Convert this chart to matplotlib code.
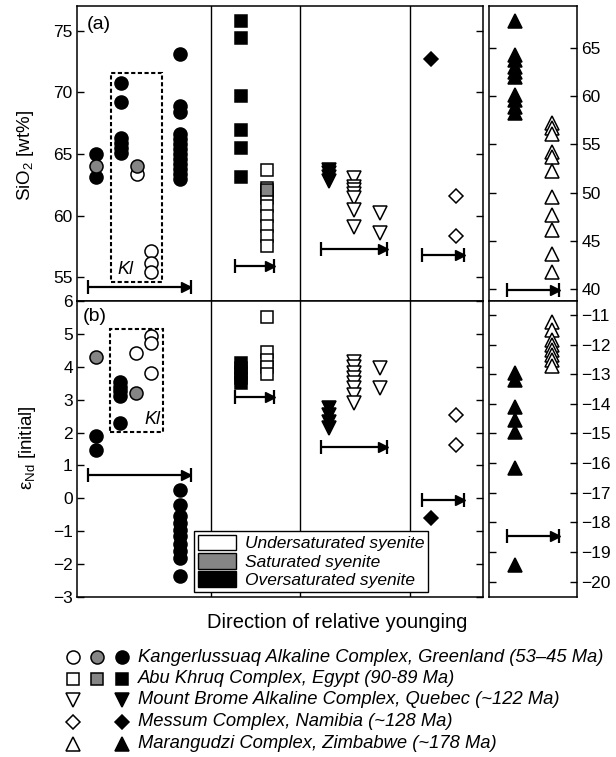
import matplotlib.pyplot as plt
from matplotlib.patches import Patch, Rectangle

plt.rcParams['font.family'] = ['Liberation Sans', 'DejaVu Sans']
plt.rcParams['mathtext.fontset'] = 'custom'
plt.rcParams['mathtext.rm'] = 'Liberation Sans'
plt.rcParams['mathtext.it'] = 'Liberation Sans:italic'

# ---------------- data (a) SiO2 [wt%] ----------------
# Kangerlussuaq (left scale)
k_si_black_1 = [65.0, 63.1]
k_si_gray_1 = [64.05]
k_si_black_2 = [70.75, 69.25, 66.3, 65.9, 65.5, 65.1]
k_si_gray_3 = [64.05]
k_si_open_3 = [63.4]
k_si_open_4 = [57.1, 56.1, 55.4]
k_si_black_5 = [73.1, 68.9, 68.4, 66.6, 66.2, 65.8, 65.4, 65.0, 64.6, 64.2, 63.8, 63.4, 63.0]
# Abu Khruq (left scale)
abu_si_black = [75.8, 74.4, 69.7, 66.95, 65.45, 63.15]
abu_si_gray = [62.1]
abu_si_open = [63.7, 62.25, 61.95, 61.45, 60.8, 59.95, 59.15, 58.35, 57.5]
# Mount Brome, Messum, Marangudzi (right scale)
mb_si_black = [52.3, 52.0, 51.6, 51.2]
mb_si_open_1 = [51.5, 50.6, 50.3, 49.9, 49.4, 48.2, 46.5]
mb_si_open_2 = [47.9, 45.85]
me_si_black = [63.8]
me_si_open = [49.65, 45.5]
ma_si_black = [67.7, 64.2, 63.7, 63.0, 62.5, 62.0, 60.1, 59.6, 58.9, 58.2]
ma_si_open = [57.2, 56.7, 56.1, 54.2, 53.7, 52.2, 49.6, 47.7, 46.1, 43.7, 41.8]

# ---------------- data (b) eNd [initial] ----------------
k_nd_gray_1 = [4.3]
k_nd_black_1 = [1.89, 1.46]
k_nd_black_2 = [3.55, 3.4, 3.25, 3.1, 2.3]
k_nd_gray_3 = [3.21]
k_nd_open_3 = [4.41]
k_nd_open_4 = [4.93, 4.73, 3.82]
k_nd_black_5 = [0.25, -0.2, -0.55, -0.75, -0.95, -1.15, -1.4, -1.6, -1.8, -2.37]
abu_nd_black = [4.1, 3.95, 3.8, 3.65, 3.5]
abu_nd_open = [5.52, 4.46, 4.2, 3.98, 3.78]
mb_nd_black = [-14.15, -14.38, -14.6, -14.83]
mb_nd_open_1 = [-12.58, -12.77, -12.97, -13.14, -13.31, -13.48, -13.7, -13.98]
mb_nd_open_2 = [-12.8, -13.48]
me_nd_black = [-17.84]
me_nd_open = [-14.38, -15.39]
ma_nd_black = [-12.97, -13.2, -14.1, -14.55, -14.94, -16.18, -19.45]
ma_nd_open = [-11.23, -11.5, -11.84, -12.0, -12.2, -12.35, -12.52, -12.72]

# younging arrows (y values)
arrow_a = [54.15, 55.9, 44.2, 43.6, 39.9]
arrow_b = [0.70, 3.07, -15.45, -17.23, -18.47]

complexes = ['Kangerlussuaq Alkaline Complex, Greenland (53–45 Ma)',
             'Abu Khruq Complex, Egypt (90-89 Ma)',
             'Mount Brome Alkaline Complex, Quebec (~122 Ma)',
             'Messum Complex, Namibia (~128 Ma)',
             'Marangudzi Complex, Zimbabwe (~178 Ma)']
saturation = ['Undersaturated syenite', 'Saturated syenite', 'Oversaturated syenite']

# ---------------- layout ----------------
W, H = 616, 757
GRAY = '#858585'
X_K = [96, 121, 137, 151, 180]
X_ABU = [241, 267]
X_MB = [328.5, 353.5, 380]
X_ME = [431, 456]
X_MA = [514.5, 552]
ARROW_X = [(88, 190.7), (235, 274.3), (320.7, 387.3), (422, 464), (506.7, 559)]

fig = plt.figure(figsize=(W / 100, H / 100), dpi=100)


def frac(x0, y0, x1, y1):
    return [x0 / W, 1 - y1 / H, (x1 - x0) / W, (y1 - y0) / H]


ax_a = fig.add_axes(frac(77, 6, 483, 301))
ax_b = fig.add_axes(frac(77, 301, 483, 597))
axr_a = fig.add_axes(frac(489, 6, 577, 301))
axr_b = fig.add_axes(frac(489, 301, 577, 597))
ax_a.set_ylim(53.05, 77.03)
ax_b.set_ylim(-3, 6)
axr_a.set_ylim(38.8, 69.3)
axr_b.set_ylim(-20.52, -10.53)
tw_a = ax_a.twinx()
tw_b = ax_b.twinx()
tw_a.set_ylim(axr_a.get_ylim())
tw_b.set_ylim(axr_b.get_ylim())

for ax in (ax_a, ax_b, tw_a, tw_b):
    ax.set_xlim(77, 483)
for ax in (axr_a, axr_b):
    ax.set_xlim(489, 577)

for ax in (ax_a, ax_b, axr_a, axr_b):
    ax.set_xticks([])
    for s in ax.spines.values():
        s.set_linewidth(1.1)
    ax.tick_params(axis='y', direction='in', length=5, width=1, labelsize=12.5,
                   left=True, right=True, pad=3)
for ax in (ax_a, ax_b):
    ax.tick_params(labelleft=True, labelright=False)
    for xv in (211, 300, 410):
        ax.axvline(xv, color='k', lw=1.0)
for ax in (axr_a, axr_b):
    ax.tick_params(labelleft=False, labelright=True)
for ax in (tw_a, tw_b):
    ax.set_yticks([])
    ax.set_xticks([])
    for s in ax.spines.values():
        s.set_visible(False)

ax_a.set_yticks([55, 60, 65, 70, 75])
ax_b.set_yticks(range(-3, 7))
axr_a.set_yticks([40, 45, 50, 55, 60, 65])
axr_b.set_yticks(range(-20, -10))


def pts(ax, x, ys, style, marker, ms):
    fc = {'black': 'k', 'gray': GRAY, 'open': 'white'}[style]
    ax.plot([x] * len(ys), ys, ls='none', marker=marker, ms=ms, mfc=fc,
            mec='k', mew=1.1)


def arrow(ax, span, y):
    x0, x1 = span
    ax.plot([x0, x1], [y, y], color='k', lw=1.6, solid_capstyle='butt')
    ax.plot([x0, x1], [y, y], ls='none', marker='|', ms=10, mew=1.6, color='k')
    ax.plot([x1 - 4.5], [y], marker='>', ms=7.5, color='k', mec='k')


CM, SQ, TR, DM = 9.4, 8.6, 9.5, 7.6

# (a) panel
pts(ax_a, X_K[0], k_si_black_1, 'black', 'o', CM)
pts(ax_a, X_K[0], k_si_gray_1, 'gray', 'o', CM)
pts(ax_a, X_K[1], k_si_black_2, 'black', 'o', CM)
pts(ax_a, X_K[2], k_si_open_3, 'open', 'o', CM)
pts(ax_a, X_K[2], k_si_gray_3, 'gray', 'o', CM)
pts(ax_a, X_K[3], k_si_open_4, 'open', 'o', CM)
pts(ax_a, X_K[4], k_si_black_5, 'black', 'o', CM)
pts(ax_a, X_ABU[0], abu_si_black, 'black', 's', SQ)
pts(ax_a, X_ABU[1], abu_si_open, 'open', 's', 8.0)
pts(ax_a, X_ABU[1], abu_si_gray, 'gray', 's', 8.0)
pts(tw_a, X_MB[0], mb_si_black, 'black', 'v', TR)
pts(tw_a, X_MB[1], mb_si_open_1, 'open', 'v', TR)
pts(tw_a, X_MB[2], mb_si_open_2, 'open', 'v', TR)
pts(tw_a, X_ME[0], me_si_black, 'black', 'D', DM)
pts(tw_a, X_ME[1], me_si_open, 'open', 'D', DM)
pts(axr_a, X_MA[0], ma_si_black, 'black', '^', TR)
pts(axr_a, X_MA[1], ma_si_open, 'open', '^', TR)
for ax, span, y in zip([ax_a, ax_a, tw_a, tw_a, axr_a], ARROW_X, arrow_a):
    arrow(ax, span, y)
ax_a.add_patch(Rectangle((110.7, 54.6), 51.6, 17.0, fill=False, ls=(0, (2.0, 1.2)),
                         lw=1.5, ec='k', zorder=1))
ax_a.text(125, 54.95, 'Kl', style='italic', fontsize=13, ha='center', va='bottom')
ax_a.text(0.025, 0.965, '(a)', transform=ax_a.transAxes, fontsize=14, va='top')

# (b) panel
pts(ax_b, X_K[0], k_nd_black_1, 'black', 'o', CM)
pts(ax_b, X_K[0], k_nd_gray_1, 'gray', 'o', CM)
pts(ax_b, X_K[1] - 1, k_nd_black_2, 'black', 'o', CM)
pts(ax_b, X_K[2] - 1, k_nd_open_3, 'open', 'o', CM)
pts(ax_b, X_K[2] - 1, k_nd_gray_3, 'gray', 'o', CM)
pts(ax_b, X_K[3], k_nd_open_4, 'open', 'o', CM)
pts(ax_b, X_K[4], k_nd_black_5, 'black', 'o', CM)
pts(ax_b, X_ABU[0], abu_nd_black, 'black', 's', SQ)
pts(ax_b, X_ABU[1], abu_nd_open, 'open', 's', 8.0)
pts(tw_b, X_MB[0], mb_nd_black, 'black', 'v', TR)
pts(tw_b, X_MB[1], mb_nd_open_1, 'open', 'v', TR)
pts(tw_b, X_MB[2], mb_nd_open_2, 'open', 'v', TR)
pts(tw_b, X_ME[0], me_nd_black, 'black', 'D', DM)
pts(tw_b, X_ME[1], me_nd_open, 'open', 'D', DM)
pts(axr_b, X_MA[0], ma_nd_black, 'black', '^', TR)
pts(axr_b, X_MA[1], ma_nd_open, 'open', '^', TR)
for ax, span, y in zip([ax_b, ax_b, tw_b, tw_b, axr_b], ARROW_X, arrow_b):
    arrow(ax, span, y)
ax_b.add_patch(Rectangle((110.3, 2.01), 52.4, 3.13, fill=False, ls=(0, (2.0, 1.2)),
                         lw=1.5, ec='k', zorder=1))
ax_b.text(152, 2.15, 'Kl', style='italic', fontsize=13, ha='center', va='bottom')
ax_b.text(0.015, 0.978, '(b)', transform=ax_b.transAxes, fontsize=14, va='top')

handles = [Patch(fc=c, ec='k', lw=1.0) for c in ('white', GRAY, 'k')]
leg = tw_b.legend(handles, saturation, loc='lower left', bbox_to_anchor=(0.288, 0.017),
                  borderaxespad=0, fancybox=False, framealpha=1, edgecolor='k',
                  prop={'style': 'italic', 'size': 12.5}, handlelength=2.2,
                  handleheight=1.0, labelspacing=0.1, handletextpad=0.5,
                  borderpad=0.22)
leg.get_frame().set_linewidth(1.0)

fig.text(25 / W, 1 - 156 / H, 'SiO$_2$ [wt%]', rotation=90, fontsize=13.5,
         ha='center', va='center')
fig.text(27 / W, 1 - 448 / H, 'ε$_{\\mathrm{Nd}}$ [initial]', rotation=90,
         fontsize=13.5, ha='center', va='center')
fig.text(337 / W, 1 - 622 / H, 'Direction of relative younging', fontsize=14.5,
         ha='center', va='center')

# symbol key at the bottom
key = fig.add_axes([0, 0, 1, 1], zorder=-1)
key.set_xlim(0, W)
key.set_ylim(H, 0)
key.axis('off')
row_y = [657, 678.5, 700, 722, 744]
key_markers = ['o', 's', 'v', 'D', '^']
key_ms = [CM, 8.6, TR, DM, TR]
key_styles = [['open', 'gray', 'black'], ['open', 'gray', 'black'],
              ['open', None, 'black'], ['open', None, 'black'], ['open', None, 'black']]
for y, mk, ms, sts, label in zip(row_y, key_markers, key_ms, key_styles, complexes):
    for xk, st in zip([73, 97, 122], sts):
        if st:
            pts(key, xk, [y], st, mk, ms)
    key.text(138, y, label, style='italic', fontsize=13.2, va='center', ha='left')

fig.savefig('out.png', dpi=100)
